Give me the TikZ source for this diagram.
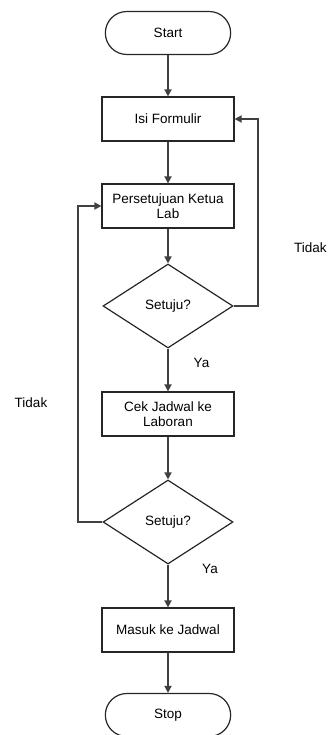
\documentclass[tikz,border=0pt]{standalone}
\usepackage{fontspec}
\setmainfont{Liberation Sans}
\usetikzlibrary{shapes.geometric,shapes.misc,arrows.meta}
\begin{document}
\begin{tikzpicture}[x=1pt,y=-1pt,
  every node/.style={font=\fontsize{13.5}{15}\selectfont},
  procbox/.style={draw, line width=1.2pt, black!85, text=black, minimum width=132pt, minimum height=44pt, align=center, inner sep=2pt},
  termbox/.style={draw, line width=1.2pt, black!85, text=black, rounded rectangle, minimum width=132pt, minimum height=43pt},
  decbox/.style={draw, line width=1.2pt, black!85, text=black, diamond, minimum width=130pt, minimum height=84pt, inner sep=0pt},
  flow/.style={line width=1.7pt, black!75, -{Triangle[length=7pt,width=7pt]}},
  lbl/.style={inner sep=0pt}]
\useasboundingbox (0,0) rectangle (328,735);
\node[termbox] (start) at (168,33) {Start};
\node[procbox] (isi) at (168,119) {Isi Formulir};
\node[procbox] (pers) at (168,206) {Persetujuan Ketua\\Lab};
\node[decbox] (d1) at (168,306) {Setuju?};
\node[procbox] (cek) at (168,414) {Cek Jadwal ke\\Laboran};
\node[decbox] (d2) at (168,522) {Setuju?};
\node[procbox] (masuk) at (168,630) {Masuk ke Jadwal};
\node[termbox] (stop) at (168,715) {Stop};

\coordinate (r1) at (258,306);
\coordinate (r2) at (258,119);
\coordinate (l1) at (78,522);
\coordinate (l2) at (78,206);

\draw[flow] (start) -- (isi);
\draw[flow] (isi) -- (pers);
\draw[flow] (pers) -- (d1);
\draw[flow] (d1) -- (cek);
\draw[flow] (cek) -- (d2);
\draw[flow] (d2) -- (masuk);
\draw[flow] (masuk) -- (stop);
\draw[flow] (d1.east) -- (r1) -- (r2) -- (isi.east);
\draw[flow] (d2.west) -- (l1) -- (l2) -- (pers.west);

\node[lbl, anchor=west] (t1) at (294,248) {Tidak};
\node[lbl] (t2) at (31,403) {Tidak};
\node[lbl] (y1) at (201.5,363) {Ya};
\node[lbl] (y2) at (210,569) {Ya};
\end{tikzpicture}
\end{document}
